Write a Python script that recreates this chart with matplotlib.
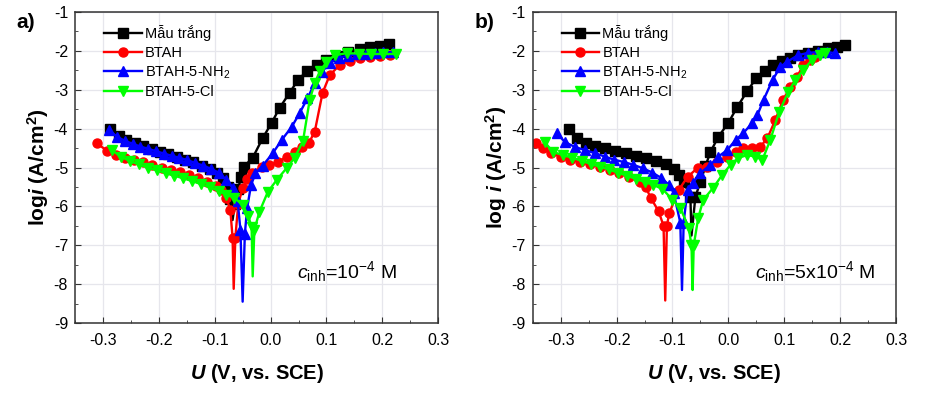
import numpy as np
import matplotlib
matplotlib.use("Agg")
import matplotlib.pyplot as plt
from matplotlib.ticker import MultipleLocator

plt.rcParams['font.family'] = ['Liberation Sans', 'DejaVu Sans']
plt.rcParams['mathtext.fontset'] = 'custom'
plt.rcParams['mathtext.rm'] = 'Liberation Sans'
plt.rcParams['mathtext.it'] = 'Liberation Sans:italic'
plt.rcParams['mathtext.bf'] = 'Liberation Sans:bold'
plt.rcParams['mathtext.bfit'] = 'Liberation Sans:bold:italic'

labels = ['Mẫu trắng', 'BTAH', 'BTAH-5-NH$_2$', 'BTAH-5-Cl']

# --- c_inh = 1e-4 M ---
a_blank_u = [-0.287, -0.272, -0.258, -0.243, -0.228, -0.213, -0.198, -0.183, -0.168, -0.153,
             -0.138, -0.123, -0.108, -0.095, -0.085, -0.077, -0.072, -0.068, -0.064, -0.058,
             -0.053, -0.048, -0.032, -0.014, 0.002, 0.016, 0.034, 0.049, 0.065, 0.083,
             0.100, 0.118, 0.138, 0.160, 0.178, 0.196, 0.212]
a_blank_i = [-4.01, -4.18, -4.28, -4.37, -4.45, -4.52, -4.59, -4.66, -4.73, -4.80,
             -4.87, -4.95, -5.03, -5.13, -5.28, -5.50, -5.80, -6.35, -5.95, -5.55,
             -5.25, -4.98, -4.75, -4.24, -3.85, -3.47, -3.08, -2.75, -2.52, -2.36,
             -2.23, -2.13, -2.03, -1.95, -1.90, -1.87, -1.83]

a_btah_u = [-0.311, -0.293, -0.277, -0.261, -0.245, -0.229, -0.212, -0.195, -0.178, -0.162,
            -0.146, -0.130, -0.113, -0.098, -0.088, -0.079, -0.072, -0.068, -0.066, -0.063,
            -0.058, -0.050, -0.042, -0.034, -0.016, -0.002, 0.013, 0.029, 0.043, 0.057,
            0.068, 0.079, 0.093, 0.106, 0.124, 0.142, 0.160, 0.178, 0.196, 0.214]
a_btah_i = [-4.37, -4.57, -4.68, -4.75, -4.80, -4.86, -4.93, -5.00, -5.06, -5.12,
            -5.19, -5.27, -5.37, -5.48, -5.58, -5.78, -6.10, -6.80, -8.12, -6.80,
            -5.95, -5.52, -5.30, -5.14, -4.98, -4.93, -4.86, -4.72, -4.60, -4.47,
            -4.38, -4.08, -3.08, -2.62, -2.36, -2.26, -2.18, -2.16, -2.13, -2.11]

a_nh2_u = [-0.289, -0.275, -0.261, -0.247, -0.233, -0.219, -0.205, -0.191, -0.177, -0.163,
           -0.149, -0.135, -0.121, -0.107, -0.093, -0.079, -0.068, -0.059, -0.054, -0.050,
           -0.046, -0.042, -0.035, -0.027, -0.014, 0.004, 0.020, 0.038, 0.052, 0.066,
           0.079, 0.092, 0.106, 0.122, 0.138, 0.154, 0.170, 0.186, 0.202, 0.219]
a_nh2_i = [-4.03, -4.21, -4.31, -4.39, -4.46, -4.52, -4.58, -4.64, -4.70, -4.75,
           -4.81, -4.88, -4.95, -5.03, -5.13, -5.32, -5.52, -5.85, -6.60, -8.45,
           -6.70, -6.05, -5.45, -5.15, -4.95, -4.63, -4.29, -3.95, -3.60, -3.22,
           -2.83, -2.54, -2.31, -2.18, -2.12, -2.09, -2.07, -2.05, -2.04, -2.03]

a_cl_u = [-0.284, -0.268, -0.252, -0.236, -0.220, -0.204, -0.188, -0.172, -0.156, -0.140,
          -0.124, -0.108, -0.093, -0.079, -0.065, -0.050, -0.040, -0.034, -0.032, -0.029,
          -0.020, -0.005, 0.011, 0.029, 0.043, 0.058, 0.070, 0.079, 0.088, 0.100,
          0.115, 0.136, 0.158, 0.180, 0.202, 0.224]
a_cl_i = [-4.55, -4.72, -4.83, -4.92, -5.00, -5.07, -5.14, -5.21, -5.28, -5.35,
          -5.43, -5.51, -5.60, -5.70, -5.78, -5.96, -6.25, -6.52, -7.80, -6.60,
          -6.14, -5.63, -5.32, -5.01, -4.75, -4.32, -3.26, -2.83, -2.53, -2.29,
          -2.11, -2.06, -2.07, -2.08, -2.08, -2.08]

# --- c_inh = 5e-4 M ---
b_blank_u = [-0.286, -0.270, -0.255, -0.238, -0.220, -0.202, -0.184, -0.166, -0.148, -0.130,
             -0.112, -0.098, -0.088, -0.080, -0.068, -0.066, -0.059, -0.050, -0.041, -0.032,
             -0.018, 0.000, 0.016, 0.034, 0.050, 0.066, 0.080, 0.096, 0.111, 0.125,
             0.143, 0.161, 0.179, 0.195, 0.209]
b_blank_i = [-4.01, -4.24, -4.37, -4.44, -4.50, -4.57, -4.63, -4.70, -4.76, -4.83,
             -4.92, -5.03, -5.19, -5.37, -5.75, -6.75, -5.75, -5.37, -4.96, -4.60,
             -4.21, -3.85, -3.44, -3.03, -2.70, -2.52, -2.36, -2.26, -2.18, -2.11,
             -2.05, -2.00, -1.93, -1.90, -1.85]

b_btah_u = [-0.345, -0.332, -0.318, -0.300, -0.284, -0.266, -0.248, -0.230, -0.212, -0.195,
            -0.177, -0.159, -0.148, -0.139, -0.125, -0.116, -0.113, -0.110, -0.106, -0.089,
            -0.073, -0.055, -0.038, -0.020, -0.002, 0.013, 0.027, 0.043, 0.057, 0.070,
            0.084, 0.098, 0.111, 0.123, 0.134, 0.146, 0.155]
b_btah_i = [-4.37, -4.50, -4.63, -4.72, -4.80, -4.86, -4.92, -4.98, -5.06, -5.14,
            -5.24, -5.37, -5.50, -5.78, -6.12, -6.50, -8.42, -6.50, -6.18, -5.58,
            -5.24, -5.01, -4.98, -4.86, -4.72, -4.60, -4.50, -4.50, -4.47, -4.24,
            -3.78, -3.26, -2.93, -2.67, -2.36, -2.23, -2.16]

b_nh2_u = [-0.307, -0.293, -0.275, -0.257, -0.239, -0.221, -0.204, -0.187, -0.170, -0.153,
           -0.136, -0.120, -0.106, -0.098, -0.086, -0.083, -0.080, -0.073, -0.064, -0.050,
           -0.032, -0.018, -0.002, 0.013, 0.027, 0.043, 0.052, 0.063, 0.079, 0.093,
           0.105, 0.125, 0.143, 0.161, 0.177, 0.191]
b_nh2_i = [-4.11, -4.34, -4.47, -4.55, -4.63, -4.72, -4.80, -4.86, -4.93, -5.02,
           -5.13, -5.27, -5.45, -5.65, -6.42, -8.15, -6.40, -5.57, -5.40, -5.14,
           -4.93, -4.72, -4.55, -4.29, -4.11, -3.85, -3.65, -3.26, -2.75, -2.41,
           -2.28, -2.11, -2.05, -2.03, -2.03, -2.06]

b_cl_u = [-0.329, -0.314, -0.296, -0.279, -0.262, -0.246, -0.230, -0.214, -0.198, -0.182,
          -0.166, -0.150, -0.134, -0.118, -0.100, -0.086, -0.071, -0.066, -0.064, -0.062,
          -0.054, -0.045, -0.027, -0.011, 0.004, 0.018, 0.034, 0.048, 0.061, 0.075,
          0.091, 0.107, 0.120, 0.134, 0.150, 0.164, 0.173]
b_cl_i = [-4.34, -4.60, -4.68, -4.75, -4.83, -4.91, -4.98, -5.05, -5.13, -5.21,
          -5.29, -5.37, -5.45, -5.55, -5.83, -6.04, -6.55, -7.00, -8.15, -7.00,
          -6.30, -5.83, -5.52, -5.19, -4.93, -4.75, -4.68, -4.72, -4.80, -4.29,
          -3.57, -3.06, -2.75, -2.49, -2.23, -2.11, -2.06]

colors = ['black', '#ff0000', '#0000ff', '#00ff00']
markers = ['s', 'o', '^', 'v']

panels = [
    dict(tag='a)', ylab='log$\\mathbfit{i}$ (A/cm$^\\mathbf{2}$)', note='$c_{\\rm inh}$=10$^{-4}$ M',
         series=[(a_blank_u, a_blank_i), (a_btah_u, a_btah_i), (a_nh2_u, a_nh2_i), (a_cl_u, a_cl_i)]),
    dict(tag='b)', ylab='log $\\mathbfit{i}$ (A/cm$^\\mathbf{2}$)', note='$c_{\\rm inh}$=5x10$^{-4}$ M',
         series=[(b_blank_u, b_blank_i), (b_btah_u, b_btah_i), (b_nh2_u, b_nh2_i), (b_cl_u, b_cl_i)]),
]

fig = plt.figure(figsize=(9.41, 3.93), dpi=100)
lefts = [0.0797, 0.5662]

for left, p in zip(lefts, panels):
    ax = fig.add_axes([left, 0.178, 0.386, 0.7915])
    for (u, logi), c, m, lab in zip(p['series'], colors, markers, labels):
        u = np.array(u)
        logi = np.array(logi)
        # no marker on the bottom of the corrosion-potential spike
        idx = [k for k in range(len(u)) if k != int(np.argmin(logi))]
        ax.plot(u, logi, color=c, marker=m, markevery=idx, markersize=6.5,
                linewidth=1.7, label=lab)

    ax.set_xlim(-0.35, 0.3)
    ax.set_ylim(-9, -1)
    ax.xaxis.set_minor_locator(MultipleLocator(0.05))
    ax.yaxis.set_minor_locator(MultipleLocator(0.5))
    ax.set_xticks([-0.3, -0.2, -0.1, 0.0, 0.1, 0.2, 0.3])
    ax.set_xticklabels(['-0.3', '-0.2', '-0.1', '0.0', '0.1', '0.2', '0.3'])
    ax.set_yticks(range(-9, 0))
    ax.set_yticklabels([str(v) for v in range(-9, 0)])
    ax.tick_params(which='both', direction='in', labelsize=11.5, color='#333333')
    ax.tick_params(axis='x', which='major', length=4, pad=7)
    ax.tick_params(axis='y', which='major', length=4, pad=5)
    ax.tick_params(which='minor', length=2.5)
    ax.grid(True, which='major', color='#e6e6ec', linewidth=0.9)
    ax.set_axisbelow(True)
    for s in ax.spines.values():
        s.set_linewidth(1.1)
        s.set_color('#333333')

    ax.set_xlabel('$\\mathbfit{U}$ (V, vs. SCE)', fontsize=14.5, fontweight='bold', labelpad=10)
    ax.set_ylabel(p['ylab'], fontsize=15, fontweight='bold', labelpad=2)

    ax.text(0.048, -7.85, p['note'], fontsize=14, ha='left', va='baseline')

    ax.legend(loc='upper left', bbox_to_anchor=(0.055, 0.985), frameon=False,
              fontsize=10.5, handlelength=2.6, handletextpad=0.2,
              labelspacing=0.3, numpoints=1, borderaxespad=0.2)

    fig.text(left - 0.062, 0.942, p['tag'], fontsize=15, fontweight='bold',
             ha='left', va='center')

fig.savefig('out.png', dpi=100)
